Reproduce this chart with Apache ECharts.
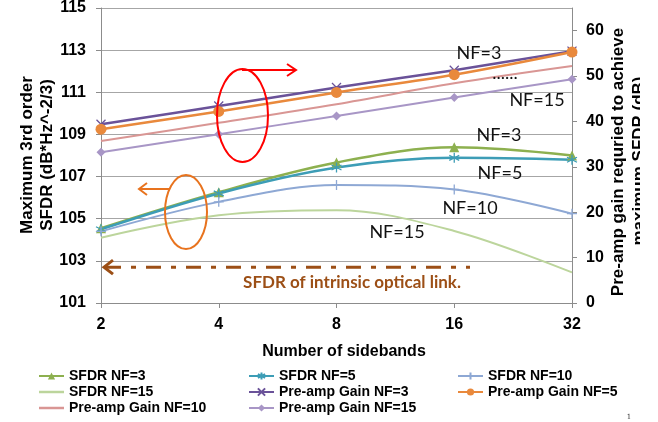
<!DOCTYPE html>
<html>
<head>
<meta charset="utf-8">
<script src="https://cdn.jsdelivr.net/npm/echarts@6/dist/echarts.min.js"></script>
<style>
  html, body { margin: 0; padding: 0; background: #fff; }
  #chart { width: 658px; height: 422px; }
</style>
</head>
<body>
<div id="chart"></div>
<script>
// data
var sidebands = ['2', '4', '8', '16', '32'];
var sfdrNf3 = [104.55, 106.26, 107.67, 108.39, 108.0];
var sfdrNf5 = [104.5, 106.2, 107.43, 107.89, 107.8];
var sfdrNf10 = [104.4, 105.8, 106.6, 106.39, 105.24];
var sfdrNf15 = [104.1, 105.16, 105.4, 104.42, 102.45];
var gainNf3 = [39.4, 43.4, 47.5, 51.3, 55.5];
var gainNf5 = [38.3, 42.2, 46.4, 50.3, 55.3];
var gainNf10 = [35.7, 39.7, 43.8, 48.4, 52.2];
var gainNf15 = [33.2, 37.2, 41.2, 45.3, 49.3];
var sfdrTicks = [101, 103, 105, 107, 109, 111, 113, 115];
var gainTicks = [0, 10, 20, 30, 40, 50, 60];
var intrinsicSfdr = 102.7;

var FONT = 'Liberation Sans';
var CAL = 'Lato';
var BROWN = '#9c4f16';

var chart = echarts.init(document.getElementById('chart'), null, { renderer: 'canvas' });

var symStar = 'path://M5,0 L5,10 M0.7,2.5 L9.3,7.5 M0.7,7.5 L9.3,2.5';
var symPlus = 'path://M5,0 L5,10 M0,5 L10,5';
var symCross = 'path://M0,0 L10,10 M0,10 L10,0';
var plainLine = 'path://M0,0 L25,0 L25,2.5 L0,2.5 Z';

function mkSeries(name, data, color, axis, symbol, size, width, strokeSym) {
    return {
        name: name,
        type: 'line',
        yAxisIndex: axis,
        data: data,
        smooth: 0.35,
        symbol: symbol,
        symbolSize: size,
        showSymbol: symbol !== 'none',
        lineStyle: { color: color, width: width },
        itemStyle: strokeSym
            ? { color: color, borderColor: color, borderWidth: 1.3 }
            : { color: color, borderWidth: 0 },
        emphasis: { disabled: true },
        z: 3
    };
}

var series = [
    mkSeries('SFDR NF=3', sfdrNf3, '#8db04f', 0, 'triangle', 10, 2.5, false),
    mkSeries('SFDR NF=5', sfdrNf5, '#3d9db6', 0, symStar, 10, 2.5, true),
    mkSeries('SFDR NF=10', sfdrNf10, '#8ea8d4', 0, symPlus, 10, 2, true),
    mkSeries('SFDR NF=15', sfdrNf15, '#bcd59c', 0, 'none', 6, 2, false),
    mkSeries('Pre-amp Gain NF=3', gainNf3, '#6a5299', 1, symCross, 9, 2.5, true),
    mkSeries('Pre-amp Gain NF=5', gainNf5, '#e9893c', 1, 'circle', 11, 2.5, false),
    mkSeries('Pre-amp Gain NF=10', gainNf10, '#d99694', 1, 'none', 6, 2, false),
    mkSeries('Pre-amp Gain NF=15', gainNf15, '#a896c6', 1, 'diamond', 9, 2, false)
];

function mkLegend(left, names) {
    return {
        orient: 'vertical',
        left: left,
        top: 369,
        padding: 0,
        itemGap: 2,
        itemWidth: 25,
        itemHeight: 9,
        selectedMode: false,
        data: names.map(function (n) {
            return (n === 'SFDR NF=15' || n === 'Pre-amp Gain NF=10') ? { name: n, icon: plainLine } : n;
        }),
        textStyle: { fontFamily: FONT, fontWeight: 'bold', fontSize: 14, color: '#000', lineHeight: 14 }
    };
}

var axisGray = '#8c8c8c';
var labelStyle = { fontFamily: FONT, fontWeight: 'bold', fontSize: 16, color: '#000' };

var option = {
    animation: false,
    backgroundColor: '#fff',
    textStyle: { fontFamily: FONT },
    grid: { left: 101, right: 86, top: 7, bottom: 119 },
    legend: [
        mkLegend(38, ['SFDR NF=3', 'SFDR NF=15', 'Pre-amp Gain NF=10']),
        mkLegend(248, ['SFDR NF=5', 'Pre-amp Gain NF=3', 'Pre-amp Gain NF=15']),
        mkLegend(457, ['SFDR NF=10', 'Pre-amp Gain NF=5'])
    ],
    xAxis: {
        type: 'category',
        data: sidebands,
        boundaryGap: false,
        axisLine: { lineStyle: { color: axisGray, width: 1 } },
        axisTick: { show: true, length: 5, lineStyle: { color: axisGray } },
        axisLabel: Object.assign({ margin: 14 }, labelStyle),
        splitLine: { show: false }
    },
    yAxis: [{
        type: 'value',
        min: 101,
        max: 115,
        axisLine: { show: true, lineStyle: { color: axisGray } },
        axisTick: { show: true, length: 5, lineStyle: { color: axisGray }, customValues: sfdrTicks },
        axisLabel: Object.assign({ margin: 15, customValues: sfdrTicks }, labelStyle),
        splitLine: { show: true, lineStyle: { color: '#a6a6a6', width: 1 } }
    }, {
        type: 'value',
        min: 0,
        max: 65,
        position: 'right',
        axisLine: { show: true, lineStyle: { color: axisGray } },
        axisTick: { show: true, length: 5, lineStyle: { color: axisGray }, customValues: gainTicks },
        axisLabel: Object.assign({ margin: 14, customValues: gainTicks }, labelStyle),
        splitLine: { show: false }
    }],
    series: series
};
chart.setOption(option);

// annotation layer
var yIntr = chart.convertToPixel({ yAxisIndex: 0 }, intrinsicSfdr);
function txt(x, y, s, style, rot) {
    return {
        type: 'text', x: x, y: y, rotation: rot || 0, z: 10,
        style: Object.assign({ text: s, align: 'center', verticalAlign: 'middle', fill: '#000' }, style)
    };
}
var nfStyle = { fontFamily: CAL, fontSize: 18, fill: '#111' };
var titleStyle = { fontFamily: FONT, fontWeight: 'bold', fontSize: 17, fill: '#000' };

chart.setOption({
    graphic: [
        txt(27, 155, 'Maximum 3rd order', titleStyle, Math.PI / 2),
        txt(47, 155, 'SFDR (dB*Hz^-2/3)', titleStyle, Math.PI / 2),
        txt(618, 162, 'Pre-amp gain requried to achieve', titleStyle, Math.PI / 2),
        txt(639, 161, 'maximum SFDR (dB)', titleStyle, Math.PI / 2),
        { type: 'rect', z: 20, shape: { x: 640, y: 0, width: 18, height: 340 }, style: { fill: '#fff' } },
        txt(344, 352, 'Number of sidebands', { fontFamily: FONT, fontWeight: 'bold', fontSize: 16 }),
        txt(479, 53, 'NF=3', nfStyle),
        txt(505, 73, '......', nfStyle),
        txt(537, 100, 'NF=15', nfStyle),
        txt(499, 135, 'NF=3', nfStyle),
        txt(500, 173, 'NF=5', nfStyle),
        txt(470, 208, 'NF=10', nfStyle),
        txt(397, 232, 'NF=15', nfStyle),
        // right-pointing marker for gain curves
        { type: 'ellipse', z: 10, shape: { cx: 242.5, cy: 115.5, rx: 25.5, ry: 46.5 }, style: { fill: 'none', stroke: '#ff0000', lineWidth: 2 } },
        { type: 'polyline', z: 10, shape: { points: [[242, 70], [296, 70]] }, style: { stroke: '#ff0000', lineWidth: 2, fill: 'none' } },
        { type: 'polyline', z: 10, shape: { points: [[287, 64], [296, 70], [287, 76]] }, style: { stroke: '#ff0000', lineWidth: 2, fill: 'none' } },
        // left-pointing marker for SFDR curves
        { type: 'ellipse', z: 10, shape: { cx: 186, cy: 212, rx: 21, ry: 37 }, style: { fill: 'none', stroke: '#e8731e', lineWidth: 2 } },
        { type: 'polyline', z: 10, shape: { points: [[170, 189], [139, 189]] }, style: { stroke: '#e8731e', lineWidth: 2, fill: 'none' } },
        { type: 'polyline', z: 10, shape: { points: [[147, 183], [139, 189], [147, 195]] }, style: { stroke: '#e8731e', lineWidth: 2, fill: 'none' } },
        // intrinsic link SFDR
        { type: 'polyline', z: 10, shape: { points: [[106, yIntr], [470, yIntr]] }, style: { stroke: BROWN, lineWidth: 3, lineDash: [15, 10, 5, 10], fill: 'none' } },
        { type: 'polyline', z: 10, shape: { points: [[113, yIntr - 7], [104, yIntr], [113, yIntr + 7]] }, style: { stroke: BROWN, lineWidth: 3, fill: 'none' } },
        txt(352, 283, 'SFDR of intrinsic optical link.', { fontFamily: CAL, fontWeight: 'bold', fontSize: 17, fill: BROWN }),
        txt(629, 417, '1', { fontFamily: 'DejaVu Serif', fontSize: 7, fill: '#333' })
    ]
});
</script>
</body>
</html>
